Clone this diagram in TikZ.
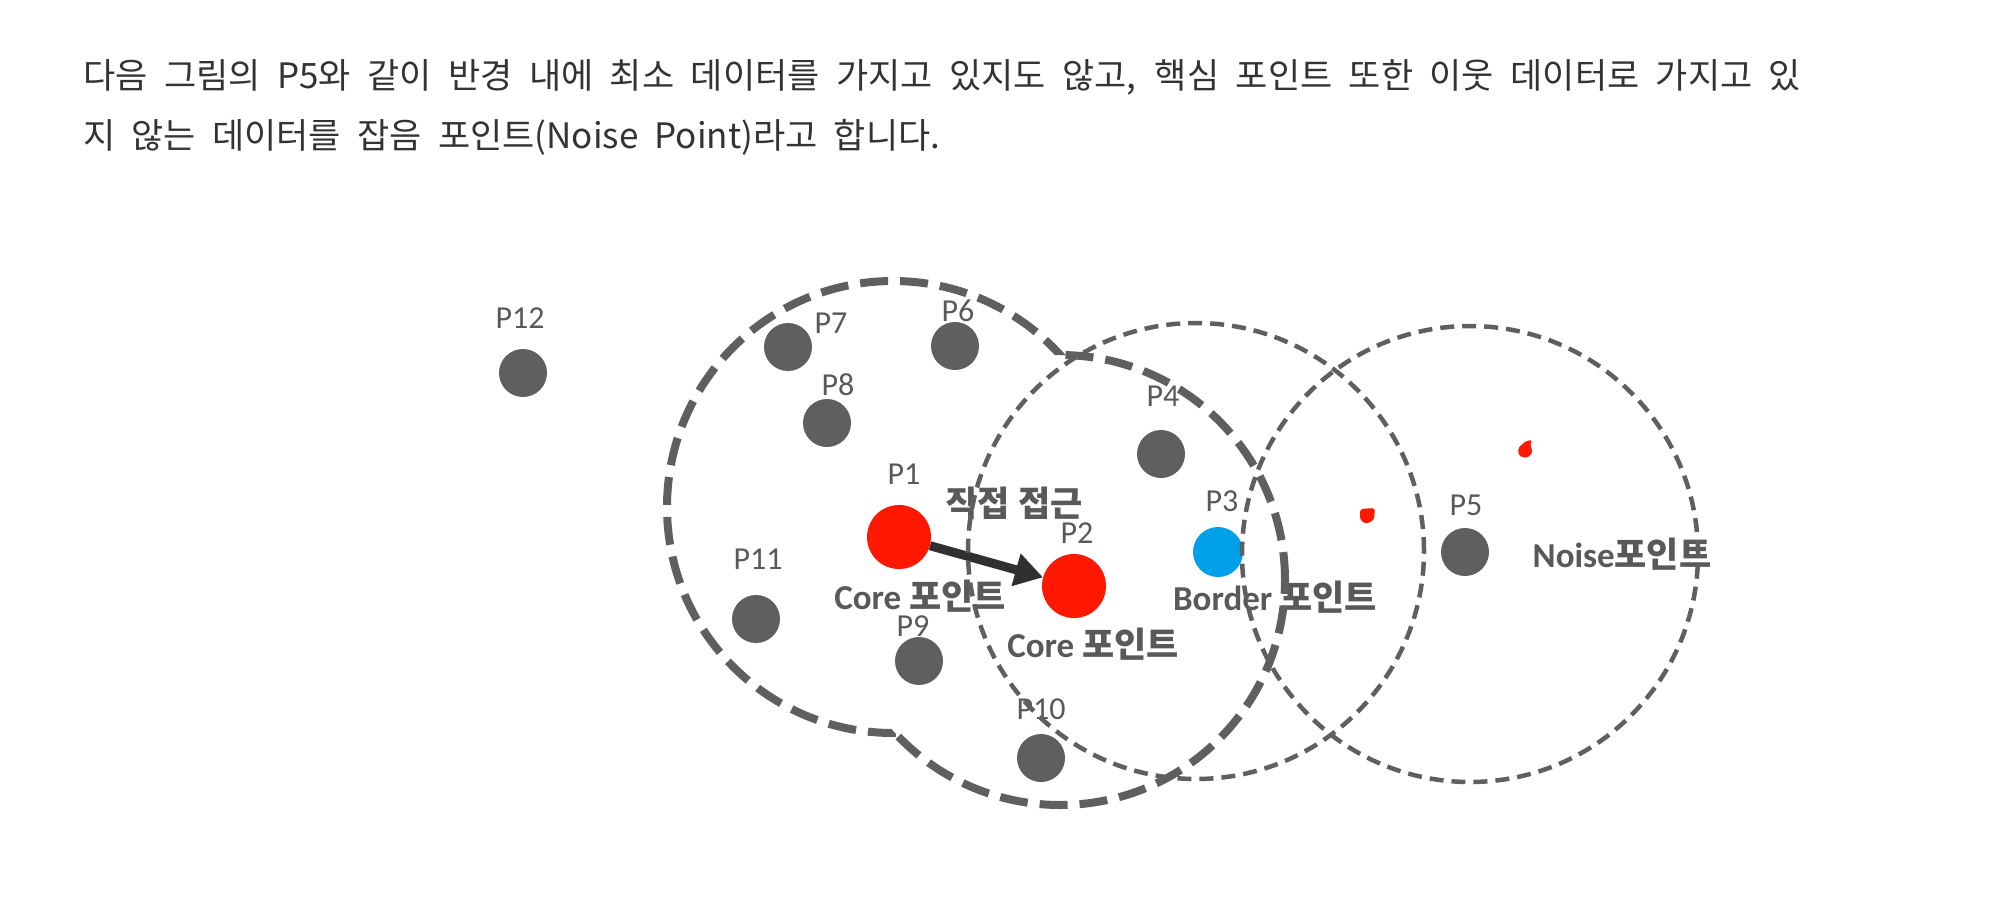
\documentclass[tikz,border=0pt]{standalone}
\usepackage{fontspec}
\setmainfont{Carlito}
\newfontfamily\kr{Noto Sans CJK KR}
\usetikzlibrary{arrows.meta}
\definecolor{dotgray}{HTML}{5F5F5F}
\definecolor{lblgray}{HTML}{595959}
\definecolor{ptred}{HTML}{FF1800}
\definecolor{ptblue}{HTML}{00A0E9}
\definecolor{hdtext}{HTML}{333333}
\definecolor{arrowdark}{HTML}{303030}
\tikzset{
  dot/.style={circle, fill=dotgray, inner sep=0pt, minimum size=48pt},
  coredot/.style={circle, fill=ptred, inner sep=0pt, minimum size=64pt},
  borderdot/.style={circle, fill=ptblue, inner sep=0pt, minimum size=50pt},
  plabel/.style={text=lblgray, font=\fontsize{32}{36}\selectfont, inner sep=0pt},
  klabel/.style={text=lblgray, font=\fontsize{35}{40}\selectfont\bfseries, inner sep=0pt},
  thickring/.style={draw=dotgray, line width=8pt, dash pattern=on 28pt off 12pt},
  thinring/.style={draw=dotgray, line width=4.5pt, dash pattern=on 14pt off 8pt},
  arr/.style={draw=arrowdark, line width=9pt, -{Triangle[length=28pt,width=32pt]}},
  hdline/.style={text=hdtext, font=\kr\fontsize{35}{40}\selectfont, anchor=west, inner sep=0pt}
}
\begin{document}
\begin{tikzpicture}[x=1pt,y=-1pt]
\useasboundingbox (0,0) rectangle (2010,900);
% header
\node[hdline] (h1) at (83,77) {\makebox[1718pt][s]{다음 그림의 P5와 같이 반경 내에 최소 데이터를 가지고 있지도 않고, 핵심 포인트 또한 이웃 데이터로 가지고 있}};
\node[hdline] (h2) at (83,137) {\makebox[857pt][s]{지 않는 데이터를 잡음 포인트(Noise Point)라고 합니다.}};
% points
\node[dot] (p12) at (523,373) {};
\node[dot] (p7) at (788,347) {};
\node[dot] (p6) at (955,346) {};
\node[dot] (p8) at (827,423) {};
\node[dot] (p4) at (1161,454) {};
\node[coredot] (p1) at (899,537) {};
\node[coredot] (p2) at (1074,586) {};
\node[borderdot] (p3) at (1218,552) {};
\node[dot] (p5) at (1465,552) {};
\node[dot] (p11) at (756,619) {};
\node[dot] (p9) at (919,661) {};
\node[dot] (p10) at (1041,758) {};
% point labels
\node[plabel] (l12) at (520,318) {P12};
\node[plabel] (l7) at (831,323) {P7};
\node[plabel] (l6) at (958,311) {P6};
\node[plabel] (l8) at (838,385) {P8};
\node[plabel] (l4) at (1163,396) {P4};
\node[plabel] (l1) at (904,474) {P1};
\node[plabel] (l2) at (1077,533) {P2};
\node[plabel] (l3) at (1222,501) {P3};
\node[plabel] (l5) at (1466,505) {P5};
\node[plabel] (l11) at (758,559) {P11};
\node[plabel] (l9) at (913,626) {P9};
\node[plabel] (l10) at (1041,709) {P10};
% bold labels
\node[klabel] (direct) at (1014,503) {\kr\bfseries 직접 접근};
\node[klabel] (core1) at (920,596) {Core {\kr\bfseries 포인트}};
\node[klabel] (core2) at (1093,644) {Core {\kr\bfseries 포인트}};
\node[klabel] (border) at (1275,597) {Border {\kr\bfseries 포인트}};
\node[klabel] (noise) at (1622,554) {Noise{\kr\bfseries 포인트}};
% arrow
\draw[arr] (p1) -- (p2);
% red scribbles
\fill[ptred, rounded corners=3pt] (1360,509) -- (1375,508) -- (1374,520) -- (1366,524) -- (1360,520) -- cycle;
\fill[ptred, rounded corners=2pt] (1518,448) -- (1526,441) -- (1532,440) -- (1530,446) -- (1533,452) -- (1527,458) -- (1519,456) -- cycle;
% rings
\begin{scope}[even odd rule]
  \clip (0,0) rectangle (2010,900) (1060,580) circle[radius=225pt];
  \draw[thickring] (893,507) circle[radius=226pt];
\end{scope}
\begin{scope}[even odd rule]
  \clip (0,0) rectangle (2010,900) (893,507) circle[radius=226pt];
  \draw[thickring] (1060,580) circle[radius=225pt];
\end{scope}
\draw[thinring] (1196,551) circle[radius=228pt];
\draw[thinring] (1470,554) circle[radius=228pt];
\end{tikzpicture}
\end{document}
